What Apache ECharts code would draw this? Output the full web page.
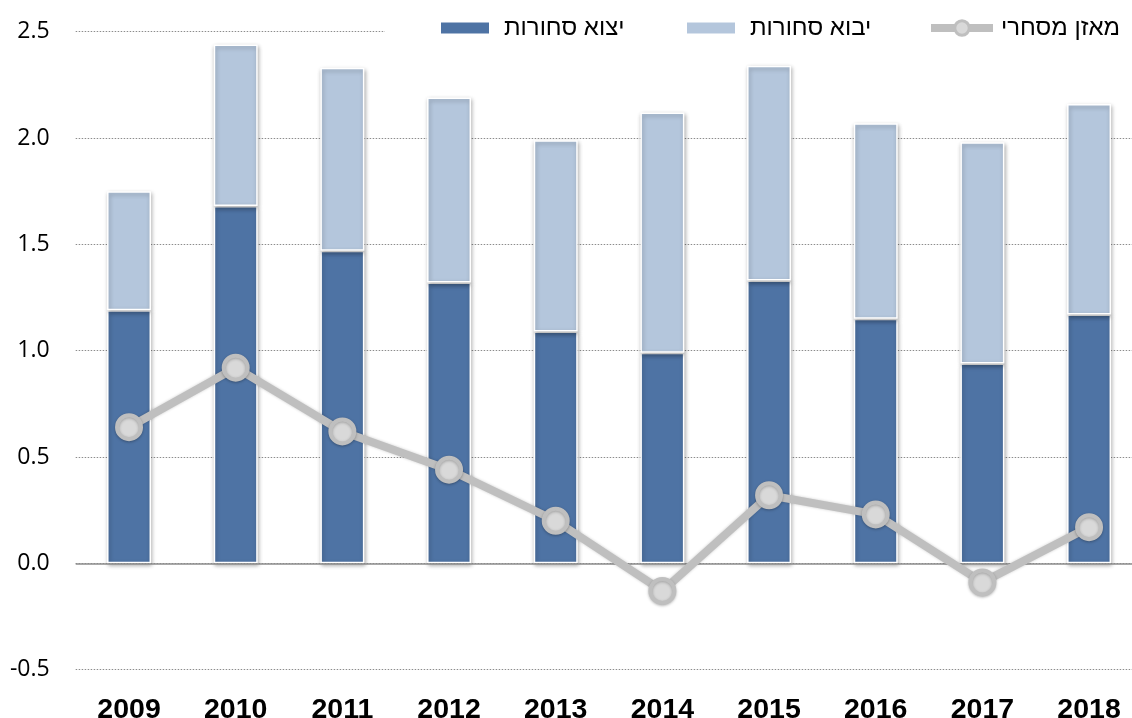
<!DOCTYPE html>
<html>
<head>
<meta charset="utf-8">
<script src="https://cdn.jsdelivr.net/npm/echarts@6/dist/echarts.min.js"></script>
<style>
html,body{margin:0;padding:0;background:#fff;}
#chart{width:1132px;height:718px;}
</style>
</head>
<body>
<div id="chart"></div>
<script>
const years = ['2009','2010','2011','2012','2013','2014','2015','2016','2017','2018'];
const exportsVals = [1.19, 1.68, 1.47, 1.32, 1.09, 0.99, 1.33, 1.15, 0.94, 1.17];
const importsVals = [0.56, 0.76, 0.86, 0.87, 0.90, 1.13, 1.01, 0.92, 1.04, 0.99];
const balanceVals = [0.64, 0.92, 0.62, 0.44, 0.20, -0.13, 0.32, 0.23, -0.09, 0.17];
const seriesNames = ['יצוא סחורות', 'יבוא סחורות', 'מאזן מסחרי'];

const DARK = '#4e73a4';
const LIGHT = '#b4c6dc';
const LINE = '#bfbfbf';
const MARK = '#d9d9d9';

const chart = echarts.init(document.getElementById('chart'), null, {renderer: 'canvas'});

const legendText = {fontFamily: 'Liberation Sans, Arial, sans-serif', fontSize: 24, color: '#000', padding: [0, 0, 0, 9]};
const barShadow = {shadowBlur: 4, shadowColor: 'rgba(0,0,0,0.3)', shadowOffsetX: 1, shadowOffsetY: 2};

chart.setOption({
  animation: false,
  backgroundColor: '#fff',
  legend: [
    {data: [seriesNames[0]], left: 385, top: 8, padding: [8, 30, 8, 54], backgroundColor: '#fff',
     itemWidth: 50, itemHeight: 13, icon: 'rect', textStyle: legendText, z: 10},
    {data: [seriesNames[1]], left: 645, top: 8, padding: [8, 30, 8, 40], backgroundColor: '#fff',
     itemWidth: 50, itemHeight: 13, icon: 'rect', textStyle: legendText, z: 10},
    {data: [seriesNames[2]], left: 887, top: 8, padding: [8, 60, 8, 40], backgroundColor: '#fff',
     itemWidth: 62, itemHeight: 18,
     lineStyle: {width: 8, color: LINE},
     itemStyle: {color: MARK, borderColor: LINE, borderWidth: 3},
     textStyle: Object.assign({}, legendText, {padding: [0,0,0,3]}), z: 10}
  ],
  grid: {left: 75.7, right: -10.4, top: 31.7, bottom: 48.4, containLabel: false, outerBoundsMode: 'none'},
  xAxis: {
    type: 'category',
    data: years,
    boundaryGap: true,
    axisLine: {show: false, onZero: false},
    axisTick: {show: false},
    axisLabel: {fontFamily: 'Liberation Sans, Arial, sans-serif', fontWeight: 'bold', fontSize: 28.5, color: '#000', margin: 26}
  },
  yAxis: {
    type: 'value',
    min: -0.5, max: 2.5, interval: 0.5,
    axisLine: {show: false},
    axisTick: {show: false},
    axisLabel: {fontFamily: 'Open Sans, sans-serif', fontSize: 23, color: '#000', margin: 26,
      formatter: v => v.toFixed(1)},
    splitLine: {show: true, lineStyle: {type: [1.5, 1.5], color: '#8c8c8c', width: 1}}
  },
  series: [
    {
      name: seriesNames[0], type: 'bar', stack: 'trade', data: exportsVals, barWidth: 44,
      itemStyle: Object.assign({color: DARK, borderColor: '#fff', borderWidth: 1.5}, barShadow),
      markLine: {silent: true, symbol: ['none','none'], label: {show: false},
        lineStyle: {color: '#8c8c8c', type: 'solid', width: 1.5}, data: [{yAxis: 0}]}
    },
    {
      name: seriesNames[1], type: 'bar', stack: 'trade', data: importsVals, barWidth: 44,
      itemStyle: Object.assign({color: LIGHT, borderColor: '#fff', borderWidth: 1.5}, barShadow)
    },
    {
      name: seriesNames[2], type: 'line', data: balanceVals, z: 5,
      symbol: 'circle', symbolSize: 24,
      lineStyle: {color: LINE, width: 8, shadowBlur: 3, shadowColor: 'rgba(0,0,0,0.2)'},
      itemStyle: {color: MARK, borderColor: LINE, borderWidth: 4, shadowBlur: 3, shadowColor: 'rgba(0,0,0,0.25)', shadowOffsetY: 1}
    }
  ]
});
</script>
</body>
</html>
